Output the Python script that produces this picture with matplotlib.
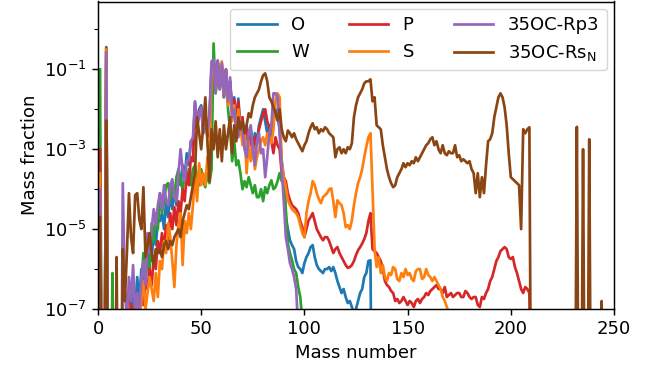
import numpy as np
import matplotlib
matplotlib.use("Agg")
import matplotlib.pyplot as plt
from matplotlib.ticker import FixedLocator, NullFormatter, LogFormatterSciNotation

# log10 of mass fraction at mass numbers 1, 2, 3, ... (-12 = effectively zero)
log_O = [-3.5, -12, -12, -0.5, -12, -12, -12, -12, -12, -12,
         -12, -12, -12, -7.5, -6.8, -7.3, -6.5, -7.0, -6.2, -6.8,
         -6.0, -6.4, -5.6, -6.0, -5.3, -5.8, -5.0, -5.4, -4.8, -4.8,
         -4.6, -5.0, -4.3, -4.7, -4.1, -4.5, -4.0, -4.4, -3.6, -3.9,
         -3.4, -3.7, -3.1, -3.4, -2.8, -2.9, -1.82, -2.4, -2.0, -1.9,
         -2.5, -2.1, -2.6, -2.2, -1.0, -0.8, -1.5, -0.78, -1.4, -0.9,
         -1.6, -1.0, -1.7, -1.3, -2.0, -1.7, -2.3, -1.73, -2.5, -2.2,
         -2.7, -2.4, -2.9, -2.5, -3.0, -2.6, -2.8, -2.4, -2.2, -2.0,
         -2.3, -2.6, -2.4, -2.7, -2.3, -2.0, -2.2, -2.5, -3.3, -3.7,
         -4.7, -5.0, -5.28, -5.4, -5.5, -5.8, -5.95, -6.0, -6.1, -5.85,
         -5.7, -5.6, -5.45, -5.4, -5.7, -5.9, -6.0, -6.05, -6.1, -6.0,
         -6.0, -5.95, -6.05, -5.95, -6.1, -6.3, -6.45, -6.6, -6.5, -6.7,
         -6.85, -6.8, -6.95, -7.1, -7.0, -6.8, -6.6, -6.5, -6.2, -6.1,
         -5.8, -5.78, -12]

log_W = [-1.0, -12, -12, -0.44, -12, -12, -6.1, -12, -12, -12,
         -12, -12, -12, -12, -12, -12, -12, -12, -12, -7.2,
         -6.4, -5.6, -6.3, -5.8, -6.0, -4.85, -5.3, -4.6, -5.0, -4.1,
         -4.6, -4.3, -3.9, -3.85, -4.3, -3.95, -4.2, -3.7, -3.5, -3.8,
         -4.0, -3.6, -3.8, -3.5, -3.9, -3.5, -3.4, -3.7, -3.9, -3.5,
         -3.8, -3.95, -3.6, -3.85, -3.5, -0.35, -1.6, -0.9, -1.5, -1.0,
         -1.7, -1.1, -2.0, -2.5, -3.3, -2.8, -3.4, -3.28, -3.6, -4.0,
         -3.8, -3.95, -3.7, -3.9, -4.1, -3.9, -4.2, -4.2, -4.0, -4.3,
         -3.95, -4.1, -3.9, -3.78, -4.0, -3.95, -3.8, -3.6, -3.8, -3.7,
         -4.5, -5.36, -5.6, -5.78, -6.0, -6.1, -6.45, -6.7, -7.3, -12]

log_P = [-3.0, -12, -12, -0.46, -12, -12, -12, -12, -12, -12,
         -12, -12, -12, -7.2, -6.6, -7.4, -6.9, -7.5, -6.8, -7.2,
         -6.5, -6.9, -6.3, -6.5, -6.0, -6.4, -5.7, -6.0, -5.3, -5.6,
         -5.1, -5.5, -4.9, -5.3, -4.6, -5.0, -4.45, -4.9, -4.3, -4.6,
         -4.0, -4.3, -3.6, -3.9, -3.2, -3.3, -1.9, -2.5, -2.1, -1.95,
         -2.6, -2.2, -2.7, -2.3, -1.0, -0.8, -1.55, -0.8, -1.45, -0.9,
         -1.65, -1.0, -1.75, -1.3, -2.1, -1.75, -2.4, -1.8, -2.6, -2.2,
         -2.8, -2.5, -3.0, -2.6, -3.1, -2.7, -2.9, -2.5, -2.3, -2.1,
         -2.0, -2.3, -2.45, -2.8, -3.1, -2.7, -2.9, -3.0, -3.6, -3.7,
         -3.8, -4.1, -4.28, -4.4, -4.45, -4.5, -4.6, -4.8, -4.95, -5.2,
         -5.0, -4.78, -4.7, -4.6, -4.8, -5.0, -5.1, -5.2, -5.28, -5.2,
         -5.2, -5.3, -5.45, -5.6, -5.5, -5.45, -5.6, -5.7, -5.8, -5.9,
         -5.97, -5.95, -5.9, -5.8, -5.65, -5.53, -5.45, -5.36, -5.25, -5.1,
         -4.8, -4.6, -5.5, -5.55, -5.6, -5.7, -5.8, -6.0, -6.3, -6.4,
         -6.45, -6.55, -6.6, -6.8, -6.75, -6.85, -6.8, -6.7, -6.8, -6.9,
         -6.8, -6.85, -6.95, -6.8, -6.75, -6.85, -6.75, -6.7, -6.6, -6.65,
         -6.55, -6.5, -6.45, -6.4, -6.5, -6.5, -6.6, -6.45, -6.7, -6.65,
         -6.6, -6.7, -6.65, -6.6, -6.6, -6.7, -6.7, -6.55, -6.6, -6.7,
         -6.75, -6.7, -6.7, -6.9, -6.95, -6.7, -6.75, -6.6, -6.5, -6.3,
         -6.2, -6.0, -5.8, -5.7, -5.55, -5.5, -5.45, -5.5, -5.7, -5.75,
         -5.7, -5.95, -6.1, -6.3, -6.5, -6.6, -6.45, -6.5, -6.6, -12]

log_S = [-3.6, -12, -12, -0.5, -12, -12, -12, -12, -12, -12,
         -12, -12, -12, -6.6, -7.2, -12, -7.6, -7.3, -6.9, -7.4,
         -6.8, -6.3, -7.0, -6.6, -6.2, -6.5, -6.8, -6.1, -6.7, -5.8,
         -6.0, -5.3, -5.6, -4.85, -5.2, -5.8, -6.45, -5.4, -4.9, -4.6,
         -5.9, -4.8, -5.1, -4.6, -5.0, -4.4, -3.6, -4.3, -3.35, -3.9,
         -3.6, -3.9, -3.2, -3.5, -1.1, -0.8, -1.5, -0.85, -1.4, -0.8,
         -1.7, -1.1, -1.9, -1.5, -2.3, -1.9, -2.7, -2.0, -2.4, -2.9,
         -2.5, -3.6, -2.8, -3.3, -2.9, -3.5, -3.2, -3.0, -2.8, -2.7,
         -2.9, -2.6, -2.7, -2.85, -2.5, -1.8, -1.6, -1.7, -3.3, -3.7,
         -3.95, -4.28, -4.4, -4.5, -4.55, -4.6, -4.7, -4.9, -5.1, -5.2,
         -4.6, -4.3, -4.1, -3.8, -3.9, -4.1, -4.25, -4.35, -4.2, -4.15,
         -4.1, -4.0, -3.98, -4.3, -4.7, -4.28, -4.35, -4.4, -4.6, -4.95,
         -4.9, -5.0, -4.78, -4.4, -4.1, -3.85, -3.7, -3.5, -3.2, -2.94,
         -2.7, -2.6, -4.0, -5.5, -5.95, -5.7, -6.1, -5.9, -6.2, -6.3,
         -6.1, -6.15, -5.95, -6.0, -6.25, -6.3, -6.1, -6.2, -6.0, -6.15,
         -6.1, -6.25, -6.3, -6.05, -6.0, -6.0, -6.25, -6.2, -6.0, -6.15,
         -6.2, -6.3, -6.2, -6.3, -6.4, -6.5, -6.7, -6.8, -6.95, -7.1,
         -12]

log_Rp3 = [-4.0, -12, -12, -0.57, -12, -12, -12, -12, -12, -12,
           -12, -3.85, -6.5, -7.3, -6.2, -6.8, -5.9, -7.2, -6.6, -7.0,
           -6.3, -5.8, -6.4, -5.1, -5.6, -5.0, -4.5, -4.9, -4.4, -4.1,
           -4.5, -3.9, -4.3, -4.4, -3.9, -3.75, -4.2, -4.3, -3.6, -3.0,
           -3.5, -3.8, -3.3, -3.28, -2.8, -2.7, -1.8, -2.4, -2.1, -1.95,
           -2.6, -2.2, -2.6, -2.2, -0.8, -0.75, -1.6, -0.78, -1.5, -0.85,
           -1.7, -1.0, -1.8, -1.2, -2.2, -2.0, -2.5, -2.7, -2.3, -2.5,
           -3.0, -3.2, -2.6, -2.4, -3.0, -3.4, -2.8, -2.6, -3.1, -3.0,
           -3.7, -3.2, -2.6, -2.4, -1.6, -1.6, -1.7, -2.6, -3.5, -4.3,
           -5.2, -5.5, -5.85, -6.0, -6.2, -6.5, -7.5, -12]

log_RsN = [-4.7, -12, -12, -2.28, -12, -12, -12, -12, -5.7, -12,
           -12, -5.5, -6.8, -5.6, -4.1, -5.2, -5.6, -4.15, -4.1, -4.75,
           -5.0, -3.95, -5.7, -5.4, -5.1, -5.6, -5.9, -5.5, -5.6, -5.5,
           -5.7, -5.4, -5.3, -5.5, -5.3, -5.4, -5.2, -5.1, -5.0, -5.2,
           -4.8, -4.6, -4.4, -4.5, -4.2, -3.9, -3.6, -2.2, -2.6, -3.0,
           -2.4, -1.7, -2.8, -3.8, -2.5, -3.0, -2.3, -3.2, -2.5, -3.3,
           -2.4, -3.0, -2.6, -2.2, -3.1, -2.4, -2.8, -2.2, -2.5, -2.3,
           -2.6, -2.4, -2.1, -2.2, -1.9, -1.7, -1.6, -1.5, -1.3, -1.15,
           -1.1, -1.3, -1.7, -1.8, -1.95, -2.1, -2.28, -2.0, -2.5, -2.7,
           -2.8, -2.53, -2.6, -2.7, -2.6, -2.75, -2.85, -2.95, -3.05, -2.9,
           -2.8, -2.6, -2.45, -2.35, -2.5, -2.45, -2.6, -2.5, -2.55, -2.45,
           -2.5, -2.6, -2.65, -2.7, -3.2, -3.0, -2.95, -3.1, -3.0, -3.1,
           -2.95, -3.0, -2.85, -2.2, -1.9, -1.7, -1.6, -1.5, -1.35, -1.3,
           -1.3, -1.25, -1.8, -1.7, -2.4, -2.45, -2.5, -2.9, -3.2, -3.5,
           -3.7, -3.85, -3.95, -3.9, -3.7, -3.6, -3.5, -3.35, -3.45, -3.35,
           -3.4, -3.3, -3.35, -3.2, -3.3, -3.2, -3.1, -3.0, -2.9, -2.85,
           -2.75, -2.7, -2.9, -2.8, -3.0, -3.1, -2.9, -3.1, -3.15, -3.05,
           -3.1, -3.1, -2.9, -3.2, -3.15, -3.3, -3.25, -3.3, -3.35, -3.3,
           -3.5, -3.6, -4.1, -3.6, -4.2, -3.7, -4.1, -3.4, -2.8, -2.75,
           -2.6, -2.2, -1.95, -1.7, -1.6, -1.7, -1.95, -2.4, -3.1, -3.7,
           -3.75, -3.8, -3.85, -3.9, -5.0, -2.5, -2.6, -2.5, -2.45]
mass_RsN_tail = [210, 231, 232, 233, 234, 235, 236, 237, 238, 239, 243, 244, 245]
log_RsN_tail = [-12, -12, -2.44, -12, -12, -3.0, -12, -12, -2.75, -12, -12, -6.8, -12]

labels = ["O", "W", "P", "S", "35OC-Rp3", r"35OC-Rs$_\mathrm{N}$"]
colors = ["#1f77b4", "#2ca02c", "#d62728", "#ff7f0e", "#9467bd", "#8b4513"]

plt.rcParams["font.size"] = 13

fig = plt.figure(figsize=(6.56, 3.70), dpi=100)
ax = fig.add_axes([98 / 656, 1 - 309 / 370, (614 - 98) / 656, (309 - 1.5) / 370])

series = [log_O, log_W, log_P, log_S, log_Rp3]
for vals, lab, col in zip(series, labels[:5], colors[:5]):
    m = np.arange(1, len(vals) + 1)
    ax.plot(m, 10.0 ** np.array(vals), color=col, lw=1.95, label=lab)

m_rs = np.concatenate([np.arange(1, len(log_RsN) + 1), mass_RsN_tail])
v_rs = np.concatenate([log_RsN, log_RsN_tail])
ax.plot(m_rs, 10.0 ** v_rs, color=colors[5], lw=1.95, label=labels[5])

ax.set_yscale("log")
ax.set_xlim(0, 250)
ax.set_ylim(1e-7, 5)
ax.yaxis.set_major_locator(FixedLocator([1e-7, 1e-5, 1e-3, 1e-1]))
ax.yaxis.set_major_formatter(LogFormatterSciNotation())
ax.yaxis.set_minor_locator(FixedLocator([1e-6, 1e-4, 1e-2, 1e0]))
ax.yaxis.set_minor_formatter(NullFormatter())
ax.set_xticks([0, 50, 100, 150, 200, 250])

for s in ax.spines.values():
    s.set_linewidth(1.05)
ax.tick_params(which="major", length=4.6, width=1.05)
ax.tick_params(which="minor", length=2.6, width=0.8)

ax.set_xlabel("Mass number")
ax.set_ylabel("Mass fraction")
ax.legend(loc="upper right", ncol=3, handlelength=2.2, borderaxespad=0.4,
          columnspacing=2.2)

fig.savefig("out.png", dpi=100)
